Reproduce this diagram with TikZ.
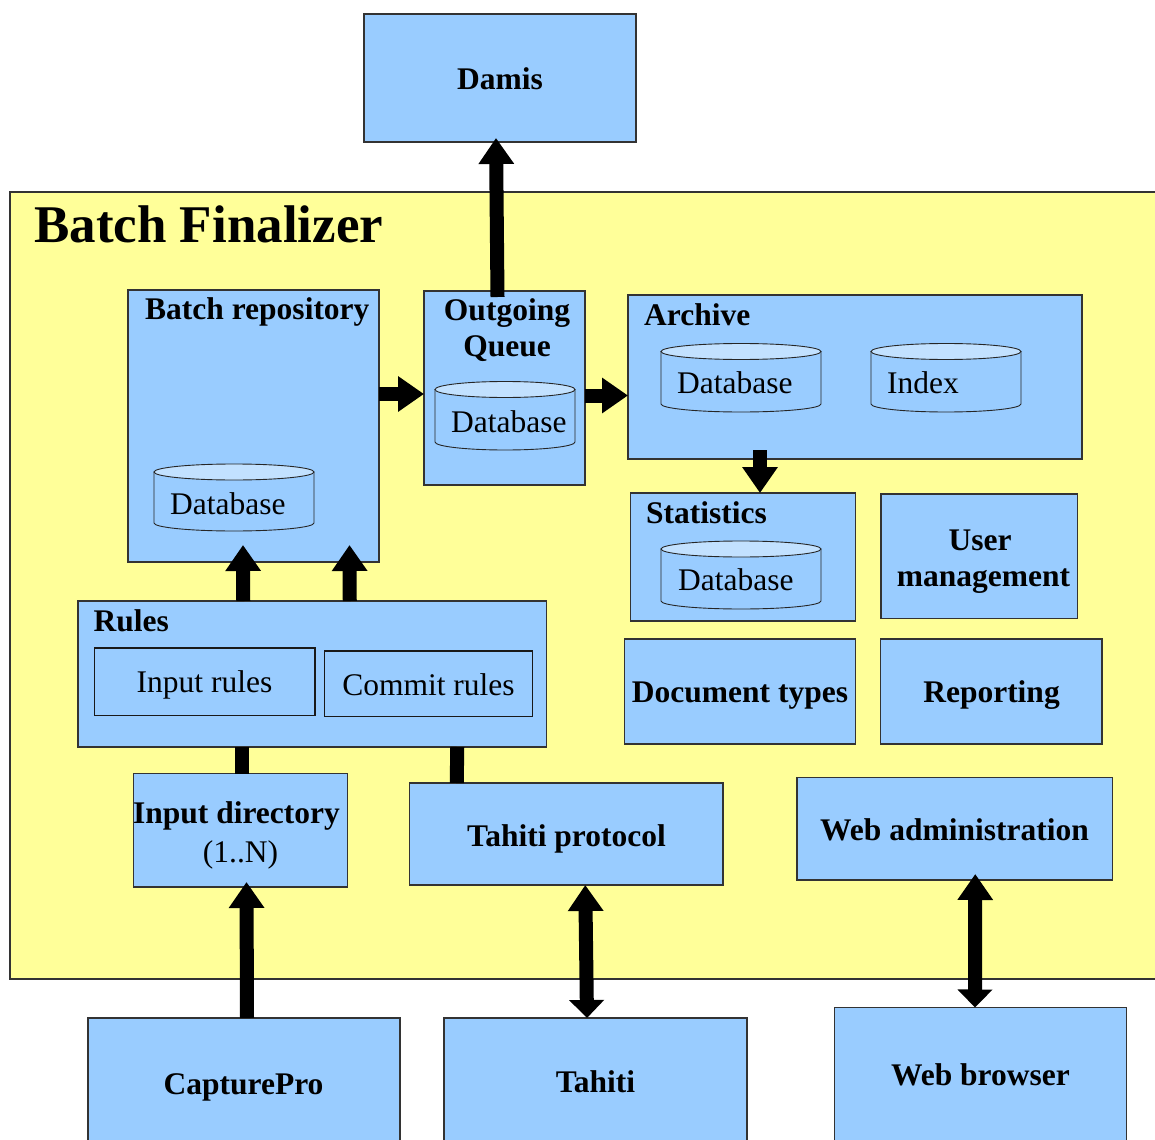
\documentclass[tikz,border=0pt]{standalone}
\usepackage{fontspec}
\setmainfont{Liberation Serif}
\usetikzlibrary{arrows.meta,fit}

\definecolor{boxblue}{HTML}{99CCFF}
\definecolor{panel}{HTML}{FFFF99}
\definecolor{capblue}{HTML}{C2E1FF}
\definecolor{edge}{HTML}{333333}

\tikzset{
  box/.style={draw=edge, fill=boxblue, line width=1.1pt, inner sep=0pt, outer sep=0pt},
  subbox/.style={box, draw=black!90},
  head/.style={font=\fontsize{31.5}{35}\selectfont\bfseries, inner sep=0pt, align=center},
  plain/.style={font=\fontsize{31.5}{35}\selectfont, inner sep=0pt},
  drum/.style={draw=black!85, fill=boxblue, line width=0.9pt},
  drumtop/.style={draw=black!85, fill=capblue, line width=0.9pt},
  flow/.style={line width=14pt, -{Triangle[length=26pt,width=34pt]}},
  duplex/.style={line width=14pt, {Triangle[length=18pt,width=34pt]}-{Triangle[length=26pt,width=34pt]}},
  link/.style={line width=14pt},
}

% database drum: name, left x, right x, top y, bottom y, x radius
\newcommand\drumshape[6]{%
  \path[drum] (#2,#4) -- (#2,#5)
    arc[start angle=180, end angle=360, x radius=#6pt, y radius=8pt]
    -- (#3,#4) -- cycle;
  \path[drumtop] ({(#2+#3)/2},#4) ellipse[x radius=#6pt, y radius=8pt];
  \coordinate (#1) at ({(#2+#3)/2},{(#4+#5)/2});
}

\begin{document}
\begin{tikzpicture}[x=1pt, y=-1pt]
\useasboundingbox (0,0) rectangle (1155,1139);

% outer component
\node[fit={(10,192) (1175,979)}, draw=edge, fill=panel, line width=1.1pt, inner sep=0pt] (bf) {};
\node[font=\fontsize{53}{60}\selectfont\bfseries, inner sep=0pt, anchor=base west] (bf-title) at (34,243) {Batch Finalizer};

% external system on top
\node[box, fit={(364,14) (636,142)}] (damis) {};
\node[head, anchor=base] (damis-t) at (500,90) {Damis};

% batch repository
\node[box, fit={(128,290) (379,562)}] (br) {};
\node[head, anchor=base west] (br-t) at (145,319) {Batch repository};
\drumshape{br-db}{154}{314}{472}{523}{80}
\node[plain, anchor=base west] (br-dbt) at (170,514) {Database};

% outgoing queue
\node[box, fit={(424,291) (585,485)}] (oq) {};
\node[head, anchor=base] (oq-t1) at (507,320) {Outgoing};
\node[head, anchor=base] (oq-t2) at (507,356) {Queue};
\drumshape{oq-db}{435}{575}{389.5}{442}{70}
\node[plain, anchor=base west] (oq-dbt) at (451,432) {Database};

% archive
\node[box, fit={(628,295) (1082,459)}] (arc) {};
\node[head, anchor=base west] (arc-t) at (644,325) {Archive};
\drumshape{arc-db}{661}{821}{351.5}{404}{80}
\node[plain, anchor=base west] (arc-dbt) at (677,393) {Database};
\drumshape{arc-ix}{871}{1021}{351.5}{404}{75}
\node[plain, anchor=base west] (arc-ixt) at (887,393) {Index};

% statistics
\node[box, fit={(630.5,493) (855.5,621)}] (stats) {};
\node[head, anchor=base west] (stats-t) at (646,523) {Statistics};
\drumshape{stats-db}{661}{821}{549}{601}{80}
\node[plain, anchor=base west] (stats-dbt) at (678,590) {Database};

% user management, document types, reporting
\node[box, fit={(881,494) (1077.5,618.5)}] (um) {};
\node[head, anchor=base] (um-t1) at (980,550) {User};
\node[head, anchor=base] (um-t2) at (983.5,586) {management};
\node[box, fit={(624.5,639) (855.5,744)}] (dt) {};
\node[head, anchor=base] (dt-t) at (740,702) {Document types};
\node[box, fit={(880.5,639) (1102,744)}] (rep) {};
\node[head, anchor=base] (rep-t) at (991.5,702) {Reporting};

% rules
\node[box, fit={(78,601) (546.5,747)}] (rules) {};
\node[head, anchor=base west] (rules-t) at (93.5,631) {Rules};
\node[subbox, fit={(94.5,648) (315,715.5)}] (inr) {};
\node[plain, anchor=base] (inr-t) at (204.5,692.5) {Input rules};
\node[subbox, fit={(324.5,651) (532.5,716.5)}] (cmr) {};
\node[plain, anchor=base] (cmr-t) at (428.5,695) {Commit rules};

% inputs
\node[box, fit={(133.5,773.5) (347.5,887)}] (indir) {};
\node[head, anchor=base] (indir-t1) at (236.5,823) {Input directory};
\node[plain, anchor=base] (indir-t2) at (240.5,862.5) {(1..N)};
\node[box, fit={(409.5,783) (723,885)}] (tp) {};
\node[head, anchor=base] (tp-t) at (566.5,846) {Tahiti protocol};
\node[box, fit={(797,777.5) (1112.5,880)}] (wa) {};
\node[head, anchor=base] (wa-t) at (954.5,840) {Web administration};

% external systems below
\node[box, fit={(88,1018) (400,1160)}] (cp) {};
\node[head, anchor=base] (cp-t) at (243.5,1094) {CapturePro};
\node[box, fit={(444,1018) (747,1160)}] (tahiti) {};
\node[head, anchor=base] (tahiti-t) at (595.5,1092) {Tahiti};
\node[box, fit={(834.5,1007.5) (1126.5,1160)}] (wb) {};
\node[head, anchor=base] (wb-t) at (980.5,1085) {Web browser};

% connectors
\draw[flow] ([xshift=-7pt,yshift=-6pt]oq.north) -- ([xshift=-4pt,yshift=4pt]damis.south);
\draw[flow] ([yshift=32pt]br.east) -- ([yshift=-6pt]oq.west);
\draw[flow] ([yshift=-7.5pt]oq.east) -- ([yshift=-18.5pt]arc.west);
\draw[flow] ([xshift=-95pt,yshift=9pt]arc.south) -- ([xshift=17pt]stats.north);
\draw[flow] ([xshift=-69pt]rules.north) -- ([xshift=-10.5pt,yshift=17pt]br.south);
\draw[flow] ([xshift=37.5pt]rules.north) -- ([xshift=96pt,yshift=17pt]br.south);
\draw[link] ([xshift=1pt]indir.north) -- ([xshift=-70.75pt]rules.south);
\draw[link] ([xshift=-109.5pt]tp.north) -- ([xshift=145pt]rules.south);
\draw[flow] ([xshift=3pt]cp.north) -- ([xshift=6pt,yshift=5pt]indir.south);
\draw[duplex] ([xshift=-8.5pt]tahiti.north) -- ([xshift=19pt]tp.south);
\draw[duplex] ([xshift=-5.5pt]wb.north) -- ([xshift=20.5pt,yshift=6pt]wa.south);
\end{tikzpicture}
\end{document}
